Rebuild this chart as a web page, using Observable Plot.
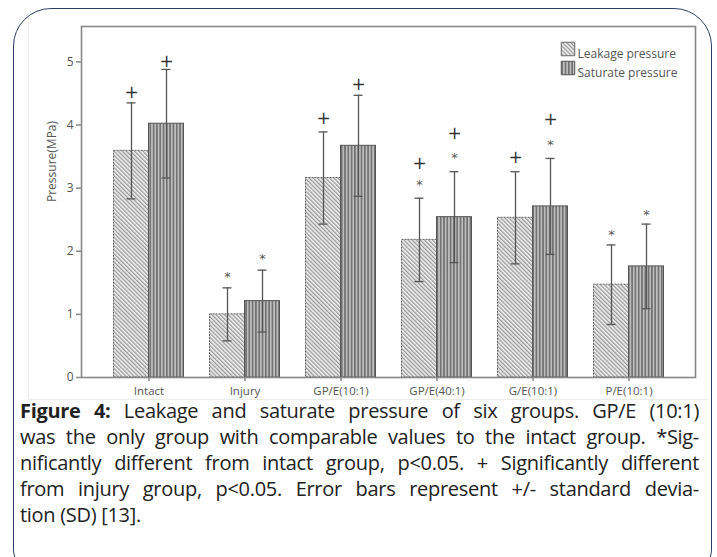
<!DOCTYPE html>
<html><head><meta charset="utf-8">
<script src="https://cdn.jsdelivr.net/npm/d3@7"></script>
<script src="https://cdn.jsdelivr.net/npm/@observablehq/plot@0.6"></script>
<style>
html,body{margin:0;padding:0;background:#fff;}
#page{position:relative;width:717px;height:557px;overflow:hidden;}
#imgarea{position:absolute;left:28px;top:16px;width:680px;height:384px;border-left:1px solid #ececec;border-bottom:1px solid #ececec;box-sizing:border-box;}
#chart{position:absolute;left:0;top:0;}
#box{position:absolute;left:13px;top:8px;width:699px;height:562px;border:1.5px solid #2c3e66;border-radius:38px 38px 20px 20px;box-sizing:border-box;pointer-events:none;}
#cap{position:absolute;left:20px;top:398px;width:679px;font-family:"Open Sans",sans-serif;font-size:20px;line-height:26px;color:#222;letter-spacing:-0.3px;}
#cap .l{text-align:justify;text-align-last:justify;}
#cap .e{text-align:left;}
</style>
</head><body>
<div id="page">
<div id="imgarea"></div>
<div id="chart"></div>
<div id="box"></div>
<div id="cap">
<div class="l"><b>Figure 4:</b> Leakage and saturate pressure of six groups. GP/E (10:1)</div>
<div class="l">was the only group with comparable values to the intact group. *Sig-</div>
<div class="l">nificantly different from intact group, p&lt;0.05. + Significantly different</div>
<div class="l">from injury group, p&lt;0.05. Error bars represent +/- standard devia-</div>
<div class="e">tion (SD) [13].</div>
</div>
</div>
<script>
const groups = ["Intact", "Injury", "GP/E(10:1)", "GP/E(40:1)", "G/E(10:1)", "P/E(10:1)"];
const seriesNames = ["Leakage pressure", "Saturate pressure"];
const leakMean = [3.59, 1.00, 3.16, 2.18, 2.53, 1.47];
const leakSD   = [0.76, 0.42, 0.73, 0.66, 0.73, 0.63];
const satMean  = [4.02, 1.21, 3.67, 2.54, 2.71, 1.76];
const satSD    = [0.86, 0.49, 0.80, 0.72, 0.76, 0.67];
// significance markers (position of symbol, in MPa)
const leakStar = [null, 1.64, null, 3.10, null, 2.31];
const leakPlus = [4.51, null, 4.10, 3.39, 3.49, null];
const satStar  = [null, 1.93, null, 3.53, 3.74, 2.63];
const satPlus  = [5.01, null, 4.64, 3.86, 4.09, null];
const yTicks = [0, 1, 2, 3, 4, 5];

const leakRows = groups.map((g, i) => ({group: g, mean: leakMean[i], sd: leakSD[i], star: leakStar[i], plus: leakPlus[i]}));
const satRows  = groups.map((g, i) => ({group: g, mean: satMean[i], sd: satSD[i], star: satStar[i], plus: satPlus[i]}));

const half = 17.5;
function seriesMarks(rows, dx, fill, stroke, dash) {
  return [
    Plot.barY(rows, {x: "group", y: "mean", dx, fill, stroke, strokeWidth: 1, strokeDasharray: dash}),
    Plot.ruleX(rows, {x: "group", y1: d => d.mean - d.sd, y2: d => d.mean + d.sd, dx, stroke: "#555", strokeWidth: 1.3}),
    Plot.tickY(rows, {x: "group", y: d => d.mean + d.sd, dx, insetLeft: 13, insetRight: 13, stroke: "#555", strokeWidth: 1.3}),
    Plot.tickY(rows, {x: "group", y: d => d.mean - d.sd, dx, insetLeft: 13, insetRight: 13, stroke: "#555", strokeWidth: 1.3}),
    Plot.text(rows.filter(d => d.plus != null), {x: "group", y: "plus", dx, text: () => "+", fontSize: 17, fill: "#333", fontFamily: "DejaVu Sans"}),
    Plot.text(rows.filter(d => d.star != null), {x: "group", y: "star", dx, dy: 3, text: () => "*", fontSize: 13, fill: "#555", fontFamily: "DejaVu Sans"})
  ];
}

const chart = Plot.plot({
  width: 717,
  height: 400,
  marginLeft: 81,
  marginRight: 22,
  marginTop: 26,
  marginBottom: 23,
  style: {background: "transparent", fontFamily: "'Open Sans', sans-serif", color: "#555"},
  x: {domain: groups, paddingInner: 0.639, paddingOuter: 0.4875, label: null},
  y: {domain: [0, 5.56], label: null},
  marks: [
    Plot.axisY({ticks: yTicks, tickFormat: d3.format("d"), tickSize: 5, tickPadding: 3, fontSize: 12, stroke: "#888", strokeWidth: 1.5, fill: "#555", label: null}),
    Plot.axisX({tickSize: 4, tickPadding: 5, fontSize: 11.5, stroke: "#888", strokeWidth: 1.5, fill: "#555", label: null}),
    ...seriesMarks(leakRows, -half, "url(#pat-leak)", "#666", "2,1"),
    ...seriesMarks(satRows, half, "url(#pat-sat)", "#555", null),
    Plot.frame({stroke: "#888", strokeWidth: 1.6}),
    Plot.text(["Pressure(MPa)"], {frameAnchor: "left", dx: -29, text: d => d, rotate: -90, fontSize: 12, fill: "#555"}),
    Plot.dot([seriesNames[0]], {frameAnchor: "top-left", dx: 486.5, dy: 22.5, symbol: "square", r: 7.6, fill: "url(#pat-leak)", stroke: "#666", strokeWidth: 1}),
    Plot.dot([seriesNames[1]], {frameAnchor: "top-left", dx: 486.5, dy: 41.5, symbol: "square", r: 7.6, fill: "url(#pat-sat)", stroke: "#555", strokeWidth: 1}),
    Plot.text([seriesNames[0]], {frameAnchor: "top-left", dx: 496, dy: 22.5, text: d => d, textAnchor: "start", fontSize: 12, fill: "#555"}),
    Plot.text([seriesNames[1]], {frameAnchor: "top-left", dx: 496, dy: 41.5, text: d => d, textAnchor: "start", fontSize: 12, fill: "#555"})
  ]
});

const ns = "http://www.w3.org/2000/svg";
const defs = document.createElementNS(ns, "defs");
defs.innerHTML = `
<pattern id="pat-leak" patternUnits="userSpaceOnUse" width="2.9" height="2.9" patternTransform="rotate(-45)">
  <rect width="2.9" height="2.9" fill="#f4f4f4"/>
  <line x1="0.7" y1="-1" x2="0.7" y2="5" stroke="#858585" stroke-width="1.1"/>
</pattern>
<pattern id="pat-sat" patternUnits="userSpaceOnUse" width="3.3" height="3.3">
  <rect width="3.3" height="3.3" fill="#bdbdbd"/>
  <line x1="0.8" y1="-1" x2="0.8" y2="5" stroke="#656565" stroke-width="1.4"/>
</pattern>`;
chart.insertBefore(defs, chart.firstChild);
document.getElementById("chart").appendChild(chart);
</script>
</body></html>
